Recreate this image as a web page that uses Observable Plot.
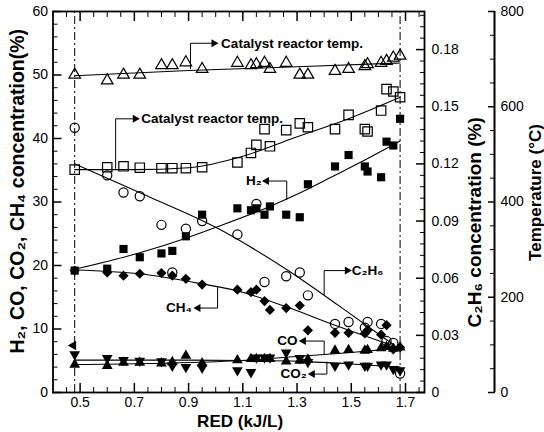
<!DOCTYPE html>
<html><head><meta charset="utf-8">
<script src="https://cdn.jsdelivr.net/npm/d3@7"></script>
<script src="https://cdn.jsdelivr.net/npm/@observablehq/plot@0.6"></script>
<style>
body{margin:0;background:#fff;}
</style></head><body><div id="chart"></div>
<script>
// ---- data ----
const RED = [0.48,0.60,0.66,0.72,0.80,0.84,0.89,0.95,1.08,1.13,1.15,1.18,1.20,1.26,1.31,1.34,1.44,1.49,1.55,1.56,1.61,1.63,1.655,1.68];
const tempTriangle = [667,655,667,667,687,687,693,679,692,687,689,692,679,692,667,667,675,679,685,689,692,696,703,707];
const tempSquare   = [468,473,475,472,471,471,471,473,483,503,520,553,517,551,565,557,553,583,553,548,592,637,632,620];
const H2   = [19.2,19.5,22.6,21.3,21.9,22.3,24.6,28.0,29.0,28.7,29.0,28.0,29.3,28.0,27.6,32.8,35.6,37.4,35.6,34.8,33.9,39.5,38.9,43.1];
const CH4  = [19.2,18.9,18.4,18.7,18.8,18.4,17.9,17.0,16.2,15.8,16.2,14.4,13.0,13.3,13.7,9.8,9.4,9.4,9.3,9.8,9.1,10.6,6.8,7.1];
const C2H6 = [0.139,0.114,0.105,0.103,0.088,0.063,0.086,0.090,0.083,null,0.099,0.058,null,0.061,0.063,0.051,0.036,0.037,0.034,0.037,0.036,0.027,0.026,0.010];
const CO   = [4.4,4.2,4.7,4.7,4.6,4.8,5.8,4.6,5.1,5.3,5.3,5.3,5.3,4.9,5.0,5.2,6.6,6.7,6.6,6.7,7.0,7.2,6.9,7.1];
const CO2  = [6.0,5.4,5.1,5.0,4.9,4.2,4.0,3.9,3.5,3.2,5.5,5.5,5.5,6.3,5.4,4.8,4.2,4.4,4.2,4.2,4.4,4.4,3.7,3.5];
const strayRED = [0.475], strayVal = [7.4];

// fitted curves
const fitTriRED = [0.48,0.9,1.3,1.68],            fitTri = [665,676,684,692];
const fitSqRED  = [0.48,0.7,0.9,1.1,1.29,1.49,1.68], fitSq = [468,468,472,496,535,575,620];
const fitH2RED  = [0.48,0.72,0.89,1.0,1.2,1.31,1.44,1.55,1.68], fitH2 = [19.4,22.0,24.3,26.0,29.3,31.4,34.2,36.6,39.6];
const fitCH4RED = [0.48,0.72,0.95,1.08,1.26,1.44,1.68], fitCH4 = [19.3,18.7,17.1,16.0,13.5,10.6,7.0];
const fitC2RED  = [0.48,0.75,1.0,1.26,1.45,1.66], fitC2 = [0.120,0.103,0.0867,0.0647,0.046,0.0247];
const fitCORED  = [0.48,0.8,1.08,1.31,1.5,1.68], fitCO = [4.4,4.6,5.0,5.7,6.3,7.0];
const fitCO2RED = [0.48,0.9,1.1,1.31,1.5,1.68], fitCO2 = [5.1,5.1,5.05,4.9,4.5,4.0];
const dashRED = [0.48,1.68];

// annotations
const annoText = ["Catalyst reactor temp.","Catalyst reactor temp.","H\u2082","C\u2082H\u2086","CH\u2084","CO","CO\u2082"];
const annoRED  = [1.020,0.725,1.170,1.502,0.912,1.302,1.336];
const annoVal  = [55.0,43.1,33.3,19.2,13.3,8.1,2.9];
const annoAlign= ["start","start","end","start","end","end","end"];
const leaderRED = [[0.907,0.907,0.993],[0.631,0.631,0.703],[1.262,1.262,1.188],[1.40,1.40,1.485],[1.007,1.007,0.935],[1.40,1.40,1.324],[1.41,1.41,1.357]];
const leaderVal = [[51.0,55.0,55.0],[35.3,43.1,43.1],[30.4,33.3,33.3],[15.4,19.2,19.2],[16.6,13.3,13.3],[6.1,8.1,8.1],[4.8,2.9,2.9]];
const headDir = [90,90,-90,90,-90,-90,-90];

// axes
const xTickLabels = ["0.5","0.7","0.9","1.1","1.3","1.5","1.7"];
const xMajor = [0.5,0.7,0.9,1.1,1.3,1.5,1.7];
const yTickLabels = ["0","10","20","30","40","50","60"];
const c2TickLabels = ["0","0.03","0.06","0.09","0.12","0.15","0.18"];
const tempTickLabels = ["0","200","400","600","800"];
const leftTitle = "H\u2082, CO, CO\u2082, CH\u2084 concentration(%)";
const c2Title = "C\u2082H\u2086 concentration (%)";
const tempTitle = "Temperature (\u00B0C)";
const xTitle = "RED (kJ/L)";

// ---- build ----
const T = t => t*60/800;      // temperature -> left units
const C = c => c*300;         // C2H6 % -> left units
const pts = (xs, ys, f = v => v) => xs.map((x,i) => ({x, y: ys[i] == null ? null : f(ys[i])})).filter(d => d.y != null);

const yMajor = yTickLabels.map(Number);
const yMinor = d3.range(0, 60.01, 2).filter(v => v % 10 !== 0);
const xMinor = d3.range(0.45, 1.77, 0.05).map(v => +v.toFixed(2)).filter(v => !xMajor.some(m => Math.abs(m-v) < 1e-6));
const c2Major = c2TickLabels.map(s => C(+s));
const c2Minor = d3.range(0, 0.2, 0.006).map(v => C(+v.toFixed(3))).filter(v => !c2Major.some(m => Math.abs(m-v) < 1e-6));
const tMajor = tempTickLabels.map(s => T(+s));
const tMinor = d3.range(0, 801, 50).filter(v => v % 200 !== 0).map(T);

const XMAX = 1.77;
const font = "Liberation Sans, Arial, Helvetica, sans-serif";
const bold = {fontWeight: "bold", fill: "black"};

const annos = annoText.map((t,i) => ({t, x: annoRED[i], y: annoVal[i], a: annoAlign[i]}));
const leaders = leaderRED.map((xs,i) => xs.map((x,j) => ({x, y: leaderVal[i][j], k: i}))).flat();
const heads = leaderRED.map((xs,i) => ({x: xs[2], y: leaderVal[i][2], r: headDir[i]}));

const chart = Plot.plot({
  width: 544, height: 432,
  marginLeft: 52.5, marginRight: 120, marginTop: 11, marginBottom: 40,
  style: {fontFamily: font, fontSize: "14px", background: "white", color: "black", overflow: "visible"},
  x: {domain: [0.4, XMAX], axis: null},
  y: {domain: [0, 60], axis: null},
  marks: [
    Plot.ruleX(dashRED, {y1: 0, y2: 60, stroke: "black", strokeWidth: 1, strokeDasharray: "8,3,2,3"}),
    // fit curves
    Plot.line(pts(fitTriRED, fitTri, T), {x: "x", y: "y", curve: "monotone-x", stroke: "black", strokeWidth: 1.1}),
    Plot.line(pts(fitSqRED, fitSq, T), {x: "x", y: "y", curve: "monotone-x", stroke: "black", strokeWidth: 1.1}),
    Plot.line(pts(fitH2RED, fitH2), {x: "x", y: "y", curve: "monotone-x", stroke: "black", strokeWidth: 1.1}),
    Plot.line(pts(fitCH4RED, fitCH4), {x: "x", y: "y", curve: "monotone-x", stroke: "black", strokeWidth: 1.1}),
    Plot.line(pts(fitC2RED, fitC2, C), {x: "x", y: "y", curve: "monotone-x", stroke: "black", strokeWidth: 1.1}),
    Plot.line(pts(fitCORED, fitCO), {x: "x", y: "y", curve: "monotone-x", stroke: "black", strokeWidth: 1.1}),
    Plot.line(pts(fitCO2RED, fitCO2), {x: "x", y: "y", curve: "monotone-x", stroke: "black", strokeWidth: 1.1}),
    // markers
    Plot.dot(pts(RED, tempTriangle, T), {x: "x", y: "y", symbol: "triangle", r: 4.3, stroke: "black", fill: "none", strokeWidth: 1.2}),
    Plot.dot(pts(RED, tempSquare, T), {x: "x", y: "y", symbol: "square", r: 5.3, stroke: "black", fill: "none", strokeWidth: 1.2}),
    Plot.dot(pts(RED, C2H6, C), {x: "x", y: "y", symbol: "circle", r: 4.6, stroke: "black", fill: "none", strokeWidth: 1.2}),
    Plot.dot(pts(RED, H2), {x: "x", y: "y", symbol: "square", r: 4.6, fill: "black", stroke: "none"}),
    Plot.dot(pts(RED, CH4), {x: "x", y: "y", symbol: "diamond2", r: 4.6, fill: "black", stroke: "none"}),
    Plot.dot(pts(RED, CO), {x: "x", y: "y", symbol: "triangle", r: 4.0, fill: "black", stroke: "none"}),
    Plot.dot(pts(RED, CO2), {x: "x", y: "y", symbol: "triangle", rotate: 180, r: 4.0, fill: "black", stroke: "none"}),
    Plot.dot(pts(strayRED, strayVal), {x: "x", y: "y", symbol: "triangle", rotate: -90, r: 3.6, fill: "black", stroke: "none"}),
    // annotations
    Plot.line(leaders, {x: "x", y: "y", z: "k", stroke: "black", strokeWidth: 1}),
    Plot.dot(heads, {x: "x", y: "y", rotate: "r", symbol: "triangle", r: 3, fill: "black", stroke: "none"}),
    Plot.text(annos.filter(d => d.a === "start"), {x: "x", y: "y", text: "t", textAnchor: "start", fontSize: 13.5, ...bold}),
    Plot.text(annos.filter(d => d.a === "end"), {x: "x", y: "y", text: "t", textAnchor: "end", fontSize: 13.5, ...bold}),
    // frame
    Plot.frame({stroke: "black", strokeWidth: 1.8}),
    // bottom & top axes
    Plot.axisX(xMajor, {anchor: "bottom", tickSize: -9, strokeWidth: 1.5, fill: "none", label: null}),
    Plot.axisX(xMinor, {anchor: "bottom", tickSize: -5, strokeWidth: 1, fill: "none", label: null}),
    Plot.axisX(xMajor, {anchor: "top", tickSize: -9, strokeWidth: 1.5, fill: "none", label: null}),
    Plot.axisX(xMinor, {anchor: "top", tickSize: -5, strokeWidth: 1, fill: "none", label: null}),
    Plot.axisX(xMajor, {anchor: "bottom", tickSize: 0, tickPadding: 5, tickFormat: (d,i) => xTickLabels[i], fontSize: 14, label: null}),
    // left axis
    Plot.axisY(yMajor, {anchor: "left", tickSize: -9, strokeWidth: 1.5, fill: "none", label: null}),
    Plot.axisY(yMinor, {anchor: "left", tickSize: -5, strokeWidth: 1, fill: "none", label: null}),
    Plot.axisY(yMajor, {anchor: "left", tickSize: 0, tickPadding: 5, tickFormat: (d,i) => yTickLabels[i], fontSize: 14, label: null}),
    // C2H6 axis (frame right)
    Plot.axisY(c2Major, {anchor: "right", tickSize: -9, strokeWidth: 1.5, fill: "none", label: null}),
    Plot.axisY(c2Minor, {anchor: "right", tickSize: -5, strokeWidth: 1, fill: "none", label: null}),
    Plot.axisY(c2Major, {anchor: "right", tickSize: 0, tickPadding: 7, tickFormat: (d,i) => c2TickLabels[i], fontSize: 14, label: null}),
    // temperature axis
    Plot.ruleX([XMAX], {y1: 0, y2: 60, dx: 70, stroke: "black", strokeWidth: 2}),
    Plot.axisY(tMajor, {anchor: "right", dx: 70, tickSize: -7, strokeWidth: 1.5, fill: "none", label: null}),
    Plot.axisY(tMinor, {anchor: "right", dx: 70, tickSize: -5, strokeWidth: 1, fill: "none", label: null}),
    Plot.axisY(tMajor, {anchor: "right", dx: 70, tickSize: 0, tickPadding: 6, tickFormat: (d,i) => tempTickLabels[i], fontSize: 14, label: null}),
    // titles
    Plot.text([leftTitle], {x: () => 0.4, y: () => 31.7, text: d => d, rotate: -90, dx: -35.5, fontSize: 19.5, ...bold}),
    Plot.text([c2Title], {x: () => XMAX, y: () => 26.8, text: d => d, rotate: -90, dx: 50, fontSize: 19, ...bold}),
    Plot.text([tempTitle], {x: () => XMAX, y: () => 31.5, text: d => d, rotate: -90, dx: 111, fontSize: 17, ...bold}),
    Plot.text([xTitle], {x: () => 1.09, y: () => 0, text: d => d, dy: 29, fontSize: 17, ...bold})
  ]
});
document.getElementById("chart").appendChild(chart);
</script></body></html>
